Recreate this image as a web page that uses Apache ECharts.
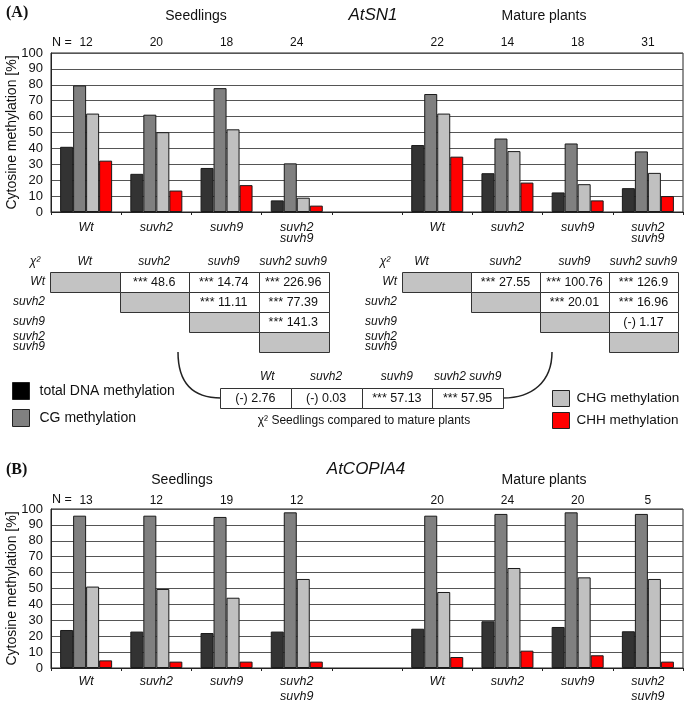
<!DOCTYPE html>
<html><head><meta charset="utf-8">
<script src="https://cdn.jsdelivr.net/npm/echarts@6/dist/echarts.min.js"></script>
<style>html,body{margin:0;padding:0;background:#fff}#c{width:685px;height:701px}</style>
</head><body><div id="c"></div>
<script>
// ---------- data ----------
const genotypes = ['Wt', 'suvh2', 'suvh9', 'suvh2\nsuvh9'];
const seriesNames = ['total DNA methylation', 'CG methylation', 'CHG methylation', 'CHH methylation'];
const yTicks = [0, 100, 10]; // min, max, interval

// Panel A: AtSN1
const nA_seed = [12, 20, 18, 24];
const nA_mature = [22, 14, 18, 31];
const aTotalSeed = [41, 24, 27.7, 7.3];
const aCGSeed = [79.6, 61.2, 77.9, 30.6];
const aCHGSeed = [61.9, 50.2, 52, 9];
const aCHHSeed = [32.3, 13.5, 16.9, 4];
const aTotalMature = [42.1, 24.4, 12.3, 15];
const aCGMature = [74.2, 46.2, 43.1, 38.1];
const aCHGMature = [61.9, 38.3, 17.5, 24.6];
const aCHHMature = [34.8, 18.5, 7.3, 10];

// Panel B: AtCOPIA4
const nB_seed = [13, 12, 19, 12];
const nB_mature = [20, 24, 20, 5];
const bTotalSeed = [23.9, 22.9, 22, 22.9];
const bCGSeed = [95.8, 95.8, 95, 97.9];
const bCHGSeed = [51.2, 49.7, 44.2, 56];
const bCHHSeed = [4.8, 4, 4, 4];
const bTotalMature = [24.7, 29.4, 25.8, 23.1];
const bCGMature = [95.8, 96.9, 97.9, 96.9];
const bCHGMature = [47.8, 62.9, 57, 56];
const bCHHMature = [6.9, 10.9, 8, 4];

// chi-square tables
const chiCols = ['Wt', 'suvh2', 'suvh9', 'suvh2 suvh9'];
const chiRows = ['Wt', 'suvh2', 'suvh9', 'suvh2\nsuvh9'];
// [column, row, text]
const chiSeedlings = [[1,0,'*** 48.6'],[2,0,'*** 14.74'],[3,0,'*** 226.96'],[2,1,'*** 11.11'],[3,1,'*** 77.39'],[3,2,'*** 141.3']];
const chiMature = [[1,0,'*** 27.55'],[2,0,'*** 100.76'],[3,0,'*** 126.9'],[2,1,'*** 20.01'],[3,1,'*** 16.96'],[3,2,'(-) 1.17']];
const chiCompare = [[0,0,'(-) 2.76'],[1,0,'(-) 0.03'],[2,0,'*** 57.13'],[3,0,'*** 57.95']];
const diagonal = [[0,0,''],[1,1,''],[2,2,''],[3,3,'']];

// ---------- build ----------
const FONT = "'Liberation Sans', Arial, Helvetica, sans-serif";
const colors = ['#333333', '#808080', '#c0c0c0', '#ff0000'];
const cats = genotypes.concat([''], genotypes);
const join = (a, b) => a.concat([null], b);
const nLabels = (a, b) => a.map(String).concat([''], b.map(String));

function barSeries(gi, arrs) {
  return arrs.map((d, i) => ({
    type: 'bar', name: seriesNames[i], xAxisIndex: gi === 0 ? 0 : 2, yAxisIndex: gi,
    data: d, barWidth: 13, barGap: '0%',
    itemStyle: { color: colors[i], borderColor: '#1a1a1a', borderWidth: 1 },
    emphasis: { disabled: true }, animation: false
  }));
}

function chartX(gi, top) {
  return [{
    type: 'category', gridIndex: gi, data: cats, boundaryGap: true,
    axisLine: { lineStyle: { color: '#222', width: 1 } },
    axisTick: { show: true, length: 3, lineStyle: { color: '#222' } },
    axisLabel: { fontFamily: FONT, fontSize: 12.5, fontStyle: 'italic', color: '#111', margin: gi === 0 ? 10 : 6, lineHeight: gi === 0 ? 11 : 15, interval: 0 },
    splitLine: { show: false }
  }, {
    type: 'category', gridIndex: gi, position: 'top', data: top, boundaryGap: true,
    axisLine: { show: false }, axisTick: { show: false },
    axisLabel: { fontFamily: FONT, fontSize: 12, color: '#111', margin: gi === 0 ? 4 : 2, interval: 0 },
    splitLine: { show: false }
  }];
}
function chartY(gi) {
  return {
    type: 'value', gridIndex: gi, min: yTicks[0], max: yTicks[1], interval: yTicks[2],
    name: 'Cytosine methylation [%]', nameLocation: 'middle', nameGap: 32, nameMoveOverlap: false,
    nameTextStyle: { fontFamily: FONT, fontSize: 14, color: '#111' },
    axisLine: { show: true, lineStyle: { color: '#222' } },
    axisTick: { show: false },
    axisLabel: { fontFamily: FONT, fontSize: 13, color: '#111', margin: 8 },
    splitLine: { lineStyle: { color: '#555', width: 1 } }
  };
}

function tableX(gi, data, rich) {
  return {
    type: 'category', gridIndex: gi, position: 'top', data: data, boundaryGap: true,
    axisLine: { show: false }, axisTick: { show: false }, splitLine: { show: false },
    axisLabel: Object.assign({ fontFamily: FONT, fontSize: 12, fontStyle: 'italic', color: '#111', margin: 4, interval: 0 }, rich || {})
  };
}
function tableY(gi, data) {
  return {
    type: 'category', gridIndex: gi, data: data, inverse: true, boundaryGap: true,
    axisLine: { show: false }, axisTick: { show: false }, splitLine: { show: false },
    axisLabel: { show: data.length > 1, fontFamily: FONT, fontSize: 12, fontStyle: 'italic', color: '#111', margin: 5, lineHeight: 10, interval: 0 }
  };
}
function cellSeries(xi, yi, cells, gray) {
  return {
    type: 'custom', xAxisIndex: xi, yAxisIndex: yi, silent: true, animation: false,
    data: cells.map(c => [c[0], c[1]]),
    renderItem: function (params, api) {
      const c = api.coord([api.value(0), api.value(1)]);
      const s = api.size([1, 1]);
      const txt = cells[params.dataIndex][2];
      const x0 = Math.round(c[0] - s[0] / 2) + 0.5, y0 = Math.round(c[1] - s[1] / 2) + 0.5;
      return { type: 'group', children: [
        { type: 'rect', shape: { x: x0, y: y0, width: Math.round(s[0]), height: Math.round(s[1]) },
          style: { fill: gray ? '#c3c3c3' : '#fff', stroke: '#333', lineWidth: 1 } },
        { type: 'text', x: c[0], y: c[1] + 0.5, style: { text: txt, fontFamily: FONT, fontSize: 12.5, fill: '#111', align: 'center', verticalAlign: 'middle' } }
      ]};
    }
  };
}

function txt(x, y, text, size, extra) {
  return { type: 'text', x: x, y: y, silent: true,
    style: Object.assign({ text: text, fontFamily: FONT, fontSize: size, fill: '#111', align: 'center', verticalAlign: 'middle' }, extra || {}) };
}

const gridBase = { containLabel: false, outerBoundsMode: 'none' };
const option = {
  animation: false,
  backgroundColor: '#fff',
  grid: [
    Object.assign({ left: 51, top: 53, width: 632, height: 159, show: true, borderColor: '#222', borderWidth: 1, backgroundColor: 'transparent' }, gridBase),
    Object.assign({ left: 51, top: 509, width: 632, height: 159, show: true, borderColor: '#222', borderWidth: 1, backgroundColor: 'transparent' }, gridBase),
    Object.assign({ left: 50, top: 272, width: 278, height: 80 }, gridBase),
    Object.assign({ left: 402, top: 272, width: 276, height: 80 }, gridBase),
    Object.assign({ left: 220, top: 388, width: 283, height: 20 }, gridBase)
  ],
  xAxis: [].concat(
    chartX(0, nLabels(nA_seed, nA_mature)),
    chartX(1, nLabels(nB_seed, nB_mature)),
    [tableX(2, chiCols),
     tableX(3, chiCols, { formatter: (v, i) => i === 0 ? '{a|' + v + '}' : v, rich: { a: { fontFamily: FONT, fontSize: 12, fontStyle: 'italic', color: '#111', padding: [0, 30, 0, 0] } } }),
     tableX(4, chiCols, { margin: 5, formatter: (v, i) => i === 0 ? '{a|' + v + '}' : v, rich: { a: { fontFamily: FONT, fontSize: 12, fontStyle: 'italic', color: '#111', padding: [0, 0, 0, 24] } } })]
  ),
  yAxis: [chartY(0), chartY(1), tableY(2, chiRows), tableY(3, chiRows), tableY(4, ['all'])],
  legend: [
    { left: 12, top: 382, padding: 0, orient: 'vertical', itemWidth: 17, itemHeight: 17, itemGap: 9, icon: 'rect',
      data: [{ name: seriesNames[0], itemStyle: { color: '#000' } }, { name: seriesNames[1] }],
      itemStyle: { borderColor: '#222', borderWidth: 1 },
      textStyle: { fontFamily: FONT, fontSize: 14, color: '#111', padding: [0, 0, 0, 5] }, selectedMode: false },
    { left: 552, top: 390, padding: 0, orient: 'vertical', itemWidth: 17, itemHeight: 16, itemGap: 5, icon: 'rect',
      data: [seriesNames[2], seriesNames[3]],
      itemStyle: { borderColor: '#222', borderWidth: 1 },
      textStyle: { fontFamily: FONT, fontSize: 13.5, color: '#111', padding: [0, 0, 0, 2] }, selectedMode: false }
  ],
  series: [].concat(
    barSeries(0, [join(aTotalSeed, aTotalMature), join(aCGSeed, aCGMature), join(aCHGSeed, aCHGMature), join(aCHHSeed, aCHHMature)]),
    barSeries(1, [join(bTotalSeed, bTotalMature), join(bCGSeed, bCGMature), join(bCHGSeed, bCHGMature), join(bCHHSeed, bCHHMature)]),
    [cellSeries(4, 2, diagonal, true), cellSeries(4, 2, chiSeedlings, false),
     cellSeries(5, 3, diagonal, true), cellSeries(5, 3, chiMature, false),
     cellSeries(6, 4, chiCompare, false)]
  ),
  graphic: [
    txt(6, 13, '(A)', 16, { fontFamily: "'Liberation Serif', 'Times New Roman', serif", fontWeight: 'bold', align: 'left' }),
    txt(373, 15, 'AtSN1', 17, { fontStyle: 'italic' }),
    txt(196, 16, 'Seedlings', 14),
    txt(544, 16, 'Mature plants', 14),
    txt(62, 43, 'N =', 12.5),
    txt(35, 262, 'χ²', 12, { fontStyle: 'italic' }),
    txt(385, 262, 'χ²', 12, { fontStyle: 'italic' }),
    txt(364, 421, 'χ² Seedlings compared to mature plants', 12),
    { type: 'bezierCurve', silent: true, shape: { x1: 178, y1: 352, cpx1: 178, cpy1: 382, cpx2: 192, cpy2: 398, x2: 221, y2: 398 }, style: { stroke: '#222', lineWidth: 1.5, fill: null } },
    { type: 'bezierCurve', silent: true, shape: { x1: 552, y1: 352, cpx1: 552, cpy1: 382, cpx2: 532, cpy2: 398, x2: 503, y2: 398 }, style: { stroke: '#222', lineWidth: 1.5, fill: null } },
    txt(6, 470, '(B)', 16, { fontFamily: "'Liberation Serif', 'Times New Roman', serif", fontWeight: 'bold', align: 'left' }),
    txt(366, 469, 'AtCOPIA4', 17, { fontStyle: 'italic' }),
    txt(182, 480, 'Seedlings', 14),
    txt(544, 480, 'Mature plants', 14),
    txt(62, 500, 'N =', 12.5)
  ]
};
const chart = echarts.init(document.getElementById('c'), null, { renderer: 'canvas' });
chart.setOption(option);
</script></body></html>
